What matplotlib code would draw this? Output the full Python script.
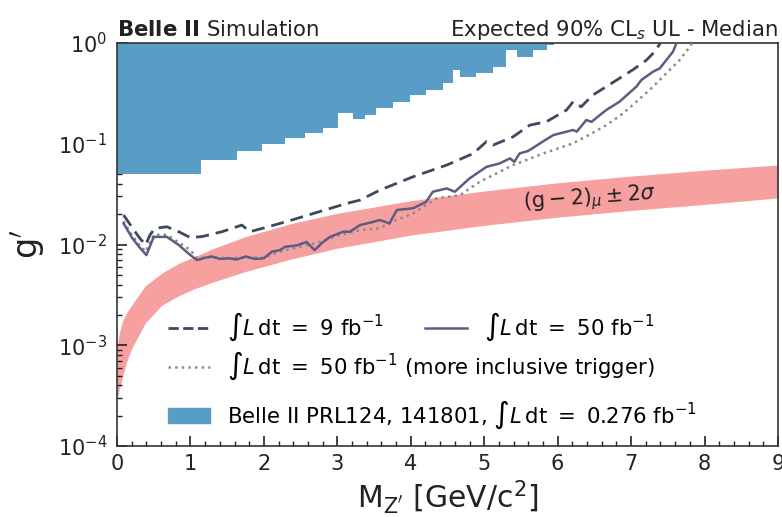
import matplotlib
matplotlib.use("Agg")
import matplotlib.pyplot as plt
from matplotlib.lines import Line2D
from matplotlib.patches import Patch

# expected limit, 9 fb^-1 (dashed)
mass_9 = [0.09, 0.2, 0.3, 0.39, 0.45, 0.52, 0.68, 0.84, 1.0, 1.16, 1.43, 1.70, 1.81,
          2.0, 2.22, 2.38, 2.67, 3.13, 3.31, 3.58, 4.03, 4.49, 4.85, 5.03, 5.12, 5.39,
          5.62, 5.85, 6.12, 6.21, 6.32, 6.48, 6.66, 6.84, 7.02, 7.21, 7.32, 7.40, 7.45]
g_9 = [0.0196, 0.015, 0.0118, 0.0099, 0.0125, 0.0145, 0.015, 0.0134, 0.0117, 0.0120,
       0.0134, 0.0156, 0.0134, 0.0146, 0.0162, 0.0175, 0.0203, 0.0256, 0.0276, 0.0347,
       0.047, 0.0615, 0.080, 0.105, 0.097, 0.117, 0.153, 0.166, 0.216, 0.261, 0.233,
       0.305, 0.368, 0.446, 0.54, 0.678, 0.82, 1.0, 1.1]

# expected limit, 50 fb^-1 (solid)
mass_50 = [0.09, 0.2, 0.3, 0.40, 0.50, 0.68, 0.84, 1.0, 1.09, 1.2, 1.29, 1.4, 1.52, 1.63,
           1.75, 1.88, 2.0, 2.11, 2.22, 2.29, 2.45, 2.58, 2.69, 2.80, 2.90, 3.08, 3.17,
           3.31, 3.45, 3.58, 3.71, 3.81, 4.03, 4.21, 4.30, 4.49, 4.60, 4.80, 5.03, 5.21,
           5.35, 5.41, 5.48, 5.60, 5.76, 5.94, 6.21, 6.26, 6.39, 6.46, 6.66, 6.84, 7.07,
           7.14, 7.30, 7.39, 7.48, 7.57, 7.63]
g_50 = [0.0162, 0.0118, 0.0095, 0.00785, 0.0119, 0.0119, 0.0099, 0.00785, 0.0070,
        0.0074, 0.0076, 0.0072, 0.0073, 0.0071, 0.0076, 0.0072, 0.0073, 0.0085, 0.0088,
        0.0095, 0.0098, 0.0106, 0.0088, 0.0105, 0.0119, 0.0134, 0.0134, 0.0156, 0.0165,
        0.0175, 0.0162, 0.022, 0.0229, 0.0265, 0.0334, 0.036, 0.0334, 0.0453, 0.059,
        0.0638, 0.0716, 0.0662, 0.080, 0.085, 0.101, 0.122, 0.137, 0.132, 0.172, 0.165,
        0.216, 0.261, 0.368, 0.43, 0.52, 0.56, 0.678, 0.82, 1.05]

# expected limit, 50 fb^-1, more inclusive trigger (dotted)
mass_incl = [0.09, 0.2, 0.3, 0.39, 0.5, 0.68, 0.84, 1.0, 1.09, 1.3, 1.5, 1.75, 2.0, 2.22,
             2.5, 2.76, 3.0, 3.31, 3.58, 3.8, 4.03, 4.35, 4.67, 4.94, 5.15, 5.39, 5.6,
             5.8, 6.21, 6.45, 6.66, 6.85, 7.02, 7.25, 7.48, 7.66, 7.80, 7.85]
g_incl = [0.017, 0.0125, 0.0100, 0.0085, 0.0125, 0.0125, 0.0105, 0.0088, 0.0073, 0.0075,
          0.0073, 0.0074, 0.0074, 0.0085, 0.0095, 0.0106, 0.0122, 0.0139, 0.0145, 0.0175,
          0.0203, 0.0287, 0.0309, 0.042, 0.050, 0.0615, 0.070, 0.080, 0.101, 0.125, 0.153,
          0.19, 0.242, 0.341, 0.50, 0.678, 0.92, 1.05]

# Belle II PRL124 excluded region (lower edge, binned)
prl_edges = [0, 1.14, 1.63, 1.98, 2.29, 2.56, 2.81, 3.01, 3.22, 3.37, 3.53, 3.76, 3.99,
             4.21, 4.44, 4.57, 4.67, 4.89, 5.12, 5.30, 5.44, 5.66, 5.85, 5.95]
prl_g = [0.05, 0.069, 0.085, 0.099, 0.113, 0.127, 0.142, 0.203, 0.176, 0.193, 0.225,
         0.261, 0.305, 0.341, 0.398, 0.54, 0.456, 0.50, 0.58, 0.85, 0.73, 0.85, 0.955]

# (g-2)_mu +- 2 sigma band
band_m = [0, 0.03, 0.07, 0.13, 0.2, 0.385, 0.61, 0.84, 1.065, 1.29, 1.75, 2.38, 3, 4, 5,
          6, 7, 8, 9]
band_hi = [0.95e-3, 1.3e-3, 1.7e-3, 2.1e-3, 2.5e-3, 3.9e-3, 5.2e-3, 6.5e-3, 7.6e-3,
           9.0e-3, 0.012, 0.0162, 0.0204, 0.0272, 0.034, 0.041, 0.0478, 0.0547, 0.0616]
band_lo = [2.9e-4, 3.6e-4, 4.7e-4, 6.8e-4, 9.3e-4, 1.66e-3, 2.5e-3, 3.1e-3, 3.66e-3,
           4.2e-3, 5.4e-3, 7.2e-3, 9.2e-3, 0.0124, 0.0155, 0.0187, 0.0218, 0.025, 0.029]

c_dash = "#3c4a5c"
c_solid = "#5e5c82"
c_dot = "#8c8c8c"
c_blue = "#589dc6"
c_pink = "#f7a0a0"
c_text = "#222222"

lumi = r"$\int L\,\mathrm{dt}\ =\ $"

fig = plt.figure(figsize=(7.82, 5.17), dpi=100)
ax = fig.add_axes([0.1496, 0.1373, 0.8453, 0.7795])
ax.set_yscale("log")

ax.fill_between(band_m, band_lo, band_hi, color=c_pink, lw=0, zorder=1)
ax.stairs(prl_g, prl_edges, baseline=1.0, fill=True, color=c_blue, zorder=2)
ax.plot(mass_9, g_9, ls="--", dashes=(4.7, 2.5), color=c_dash, lw=2, zorder=4)
ax.plot(mass_50, g_50, ls="-", color=c_solid, lw=1.8, zorder=4)
ax.plot(mass_incl, g_incl, ls=":", color=c_dot, lw=1.8, zorder=3)

ax.text(6.44, 0.0285, r"$(\mathrm{g}-2)_{\mu}\pm2\sigma$", fontsize=15, color=c_text,
        ha="center", va="center", rotation=4)

ax.set_xlim(0, 9)
ax.set_ylim(1e-4, 1)
ax.set_xticks(range(10))
ax.set_xticks([i * 0.2 for i in range(46)], minor=True)
ax.tick_params(which="both", direction="in", labelsize=15, colors=c_text)
ax.tick_params(which="major", length=7, width=1.2)
ax.tick_params(which="minor", length=3.5, width=1)
ax.tick_params(axis="x", pad=6)
ax.tick_params(axis="y", pad=7)
for s in ax.spines.values():
    s.set_color("#333333")
    s.set_linewidth(1.2)

ax.set_xlabel(r"$\mathrm{M}_{\mathrm{Z}'}\ [\mathrm{GeV/c}^2]$", fontsize=21.5, color=c_text,
              labelpad=3)
ax.set_ylabel(r"$\mathrm{g}'$", fontsize=24, color=c_text, labelpad=8)

ax.set_title(r"$\mathbf{Belle\ II}$ Simulation", loc="left", fontsize=15.3, pad=5,
             color=c_text)
ax.set_title(r"Expected 90% CL$_s$ UL - Median", loc="right", fontsize=15.3, pad=5,
             color=c_text)

h1 = [Line2D([], [], ls="--", color=c_dash, lw=2),
      Line2D([], [], ls="-", color=c_solid, lw=1.8)]
leg1 = ax.legend(h1, [lumi + r"$9\ \mathrm{fb}^{-1}$", lumi + r"$50\ \mathrm{fb}^{-1}$"],
                 ncol=2, frameon=False, fontsize=15.3, loc="center left",
                 bbox_to_anchor=(0.048, 0.295), handlelength=2.0, columnspacing=1.9,
                 handletextpad=0.8)
ax.add_artist(leg1)
h2 = [Line2D([], [], ls=":", color=c_dot, lw=1.8), Patch(color=c_blue)]
ax.legend(h2, [lumi + r"$50\ \mathrm{fb}^{-1}$ (more inclusive trigger)",
               r"Belle II PRL124, 141801, " + lumi + r"$0.276\ \mathrm{fb}^{-1}$"],
          frameon=False, fontsize=15.3, loc="center left", bbox_to_anchor=(0.048, 0.138),
          handlelength=2.0, handletextpad=0.8, labelspacing=0.75)

fig.savefig("out.png", dpi=100)
